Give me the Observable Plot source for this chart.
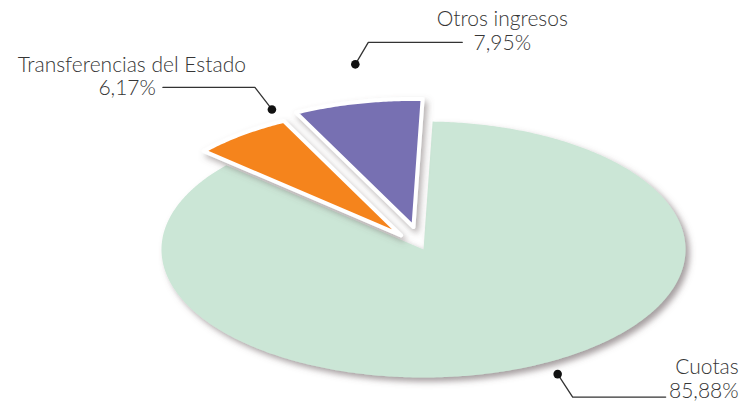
<!DOCTYPE html>
<html><head><meta charset="utf-8">
<script src="https://cdn.jsdelivr.net/npm/d3@7"></script>
<script src="https://cdn.jsdelivr.net/npm/@observablehq/plot@0.6"></script>
<style>body{margin:0;background:#fff}</style>
</head><body><div id="chart"></div>
<script>
// ---- data ----
const categories = ["Cuotas", "Transferencias del Estado", "Otros ingresos"];
const values = [85.88, 6.17, 7.95];
const valueLabels = ["85,88%", "6,17%", "7,95%"];
const colors = ["#cbe6d6", "#f5841f", "#7770b2"];

// ---- layout ----
const W = 744, H = 403;
const X_RANGE = [161, 685], Y_RANGE = [377, 121];
const sx = d3.scaleLinear([-1, 1], X_RANGE), sy = d3.scaleLinear([-1, 1], Y_RANGE);
const startAngle = 2 * Math.PI / 180;
const explode = [0, 0.14, 0.18];
const labelPos = [{t: 0.486, r: 1.10}, {t: 1.0, r: 1.10}, {t: 0.584, r: 1.29}];
const leader = [
  {elbow: [15, 23], end: [108, 23], name: {dx: 73, dy: -23, anchor: "end"}, pct: {dx: 73, dy: 1, anchor: "end"}},
  {elbow: [-17, -22], end: [-109, -22], name: {dx: 83, dy: -15, anchor: "end"}, pct: {dx: -7, dy: 8, anchor: "end"}},
  {elbow: [13, -22], end: [107, -22], name: {dx: 40, dy: -16, anchor: "middle"}, pct: {dx: 40, dy: 8, anchor: "middle"}}
];

const arcs = d3.pie().sort(null).startAngle(startAngle).endAngle(startAngle + 2 * Math.PI)(values);
const slicePts = [], dots = [], leaders = [], texts = [];
arcs.forEach((a, i) => {
  const cat = categories[i];
  const mid = (a.startAngle + a.endAngle) / 2;
  const ox = explode[i] * Math.sin(mid), oy = explode[i] * Math.cos(mid);
  slicePts.push({cat, x: ox, y: oy});
  const n = Math.max(2, Math.ceil((a.endAngle - a.startAngle) / 0.01));
  for (let k = 0; k <= n; k++) {
    const ang = a.startAngle + (a.endAngle - a.startAngle) * k / n;
    slicePts.push({cat, x: ox + Math.sin(ang), y: oy + Math.cos(ang)});
  }
  slicePts.push({cat, x: ox, y: oy});
  // label anchor
  const la = a.startAngle + (a.endAngle - a.startAngle) * labelPos[i].t;
  const dx = ox + labelPos[i].r * Math.sin(la), dy = oy + labelPos[i].r * Math.cos(la);
  const px = sx(dx), py = sy(dy);
  dots.push({cat, x: dx, y: dy});
  const L = leader[i];
  const ex = px + L.end[0], ey = py + L.end[1];
  leaders.push({cat, x: dx, y: dy});
  leaders.push({cat, x: sx.invert(px + L.elbow[0]), y: sy.invert(py + L.elbow[1])});
  leaders.push({cat, x: sx.invert(ex), y: sy.invert(ey)});
  texts.push({cat, text: cat, x: sx.invert(ex + L.name.dx), y: sy.invert(ey + L.name.dy), anchor: L.name.anchor});
  texts.push({cat, text: valueLabels[i], x: sx.invert(ex + L.pct.dx), y: sy.invert(ey + L.pct.dy), anchor: L.pct.anchor});
});

const textMarks = ["start", "middle", "end"].map(anc => Plot.text(texts.filter(d => d.anchor === anc), {
  x: "x", y: "y", text: "text", textAnchor: anc, lineAnchor: "bottom",
  fill: "#363636", fontWeight: 300, fontSize: 21
}));

const svg = Plot.plot({
  width: W, height: H, margin: 0,
  x: {domain: [-1, 1], range: X_RANGE, axis: null},
  y: {domain: [-1, 1], range: Y_RANGE, axis: null},
  color: {domain: categories, range: colors},
  style: {fontFamily: "Lato, 'Open Sans', sans-serif", background: "#fff", overflow: "visible"},
  marks: [
    Plot.line(slicePts.filter(d => d.cat === categories[0]), {x: "x", y: "y", z: "cat", fill: "cat", stroke: "none", curve: "linear"}),
    Plot.line(slicePts.filter(d => d.cat !== categories[0]), {x: "x", y: "y", z: "cat", fill: "cat", stroke: "#fff", strokeWidth: 4, strokeLinejoin: "round", curve: "linear"}),
    Plot.line(leaders, {x: "x", y: "y", z: "cat", stroke: "#333", strokeWidth: 1.3, curve: "linear"}),
    Plot.dot(dots, {x: "x", y: "y", r: 4.3, fill: "#111", stroke: "none"}),
    ...textMarks
  ]
});

const defs = d3.select(svg).insert("defs", ":first-child");
const f1 = defs.append("filter").attr("id", "sh1").attr("x", "-10%").attr("y", "-10%").attr("width", "125%").attr("height", "130%");
f1.append("feDropShadow").attr("dx", 4).attr("dy", 4).attr("stdDeviation", 3).attr("flood-color", "#6b5f60").attr("flood-opacity", 0.6);
const f2 = defs.append("filter").attr("id", "sh2").attr("x", "-20%").attr("y", "-20%").attr("width", "140%").attr("height", "140%");
f2.append("feDropShadow").attr("dx", 3).attr("dy", 4).attr("stdDeviation", 3).attr("flood-color", "#6b5f60").attr("flood-opacity", 0.5);
const gs = svg.querySelectorAll(":scope > g");
gs[0].setAttribute("filter", "url(#sh1)");
gs[1].setAttribute("filter", "url(#sh2)");
document.getElementById("chart").appendChild(svg);
</script>
</body></html>
